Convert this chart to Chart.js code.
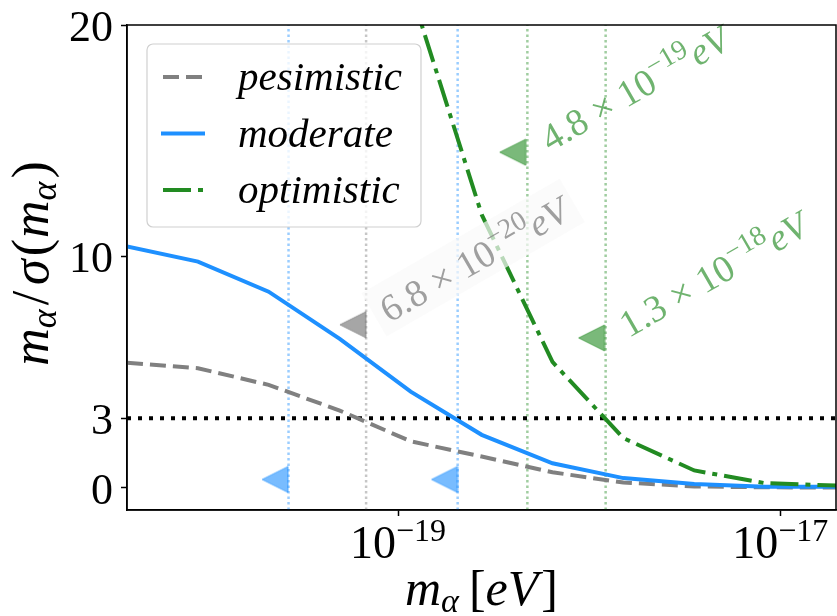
<!DOCTYPE html>
<html>
<head>
<meta charset="utf-8">
<script src="https://cdn.jsdelivr.net/npm/chart.js@4.4.0/dist/chart.umd.min.js"></script>
<style>
  html, body { margin: 0; padding: 0; background: #fff; }
</style>
</head>
<body>
<canvas id="lineChart" width="837" height="616"></canvas>
<script>
// masses (eV) where the curves were sampled
var masses = [3.81e-21, 8.96e-21, 2.10e-20, 4.95e-20, 1.164e-19, 2.74e-19, 6.43e-19, 1.51e-18, 3.55e-18, 8.35e-18, 1.96e-17];
var pesimistic = [5.40, 5.16, 4.44, 3.33, 2.00, 1.34, 0.66, 0.22, 0.05, 0.01, 0.00];
var moderate = [10.42, 9.77, 8.47, 6.43, 4.15, 2.28, 1.05, 0.41, 0.15, 0.04, 0.03];
var optimistic = [null, null, null, null, 21.5, 11.8, 5.43, 2.14, 0.74, 0.19, 0.09];
var seriesNames = ['pesimistic', 'moderate', 'optimistic'];

var threshold = 3;
var yMin = -0.97, yMax = 20;
var yTicks = [0, 3, 10, 20];
var xTicks = [1e-19, 1e-17];

// 3 sigma crossings (vertical dotted lines)
var blueCross = [2.67e-20, 2.05e-19];
var grayCross = [6.8e-20];
var greenCross = [4.75e-19, 1.22e-18];

// triangle markers
var blueMarkX = [2.27e-20, 1.75e-19], blueMarkY = [0.35, 0.35];
var grayMarkX = [5.8e-20], grayMarkY = [7.04];
var greenMarkX = [3.98e-19, 1.03e-18], greenMarkY = [14.5, 6.47];

// rotated labels next to the markers
var noteMass = [6.25e-19, 1.61e-18, 9.0e-20];
var noteLevel = [14.5, 6.46, 7.1];
var noteMant = ['4.8', '1.3', '6.8'];
var noteExp = ['−19', '−18', '−20'];

var BLUE = '#1e90ff', GRAY = '#808080', GREEN = '#228b22';
var SERIF = '"Liberation Serif", "Times New Roman", serif';

function font(size, italic) {
    return (italic ? 'italic ' : '') + size + 'px ' + SERIF;
}

// parts: [text, size, italic, rise, extraGap]
function richWidth(ctx, parts) {
    var w = 0;
    parts.forEach(function(p) {
        ctx.font = font(p[1], p[2]);
        w += ctx.measureText(p[0]).width + (p[4] || 0);
    });
    return w;
}
function drawRich(ctx, parts, x, y) {
    parts.forEach(function(p) {
        ctx.font = font(p[1], p[2]);
        ctx.fillText(p[0], x, y - (p[3] || 0));
        x += ctx.measureText(p[0]).width + (p[4] || 0);
    });
}

function triangle(color) {
    var c = document.createElement('canvas');
    c.width = 28; c.height = 28;
    var g = c.getContext('2d');
    g.fillStyle = color;
    g.strokeStyle = color;
    g.lineWidth = 1;
    g.beginPath();
    g.moveTo(1, 14);
    g.lineTo(27, 1);
    g.lineTo(27, 27);
    g.closePath();
    g.fill();
    g.stroke();
    return c;
}

function pts(xs, ys) {
    return xs.map(function(x, i) { return {x: x, y: ys[i]}; });
}
function vline(v) {
    return [{x: v, y: yMin}, {x: v, y: yMax}];
}

function guide(v, color, order) {
    return {
        data: vline(v), borderColor: color, borderWidth: 2.5, borderDash: [2.5, 3],
        pointRadius: 0, order: order
    };
}
function marks(xs, ys, color) {
    return {
        data: pts(xs, ys), showLine: false, pointStyle: triangle(color),
        pointRadius: 13, order: 4
    };
}

var datasets = [];
blueCross.forEach(function(v) { datasets.push(guide(v, 'rgba(30,144,255,0.45)', 10)); });
grayCross.forEach(function(v) { datasets.push(guide(v, 'rgba(128,128,128,0.45)', 10)); });
greenCross.forEach(function(v) { datasets.push(guide(v, 'rgba(34,139,34,0.43)', 10)); });
datasets.push({
    data: [{x: masses[0], y: threshold}, {x: masses[masses.length - 1], y: threshold}],
    borderColor: '#000', borderWidth: 4, borderDash: [4, 7], pointRadius: 0, order: 5
});
datasets.push(marks(blueMarkX, blueMarkY, 'rgba(30,144,255,0.6)'));
datasets.push(marks(grayMarkX, grayMarkY, 'rgba(128,128,128,0.7)'));
datasets.push(marks(greenMarkX, greenMarkY, 'rgba(34,139,34,0.6)'));

var curves = [
    {label: seriesNames[0], data: pts(masses, pesimistic), borderColor: GRAY, borderWidth: 4, borderDash: [16, 7], pointRadius: 0, order: 3},
    {label: seriesNames[1], data: pts(masses, moderate), borderColor: BLUE, borderWidth: 4, pointRadius: 0, order: 2},
    {label: seriesNames[2], data: pts(masses, optimistic), borderColor: GREEN, borderWidth: 4, borderDash: [28, 7, 5, 7], pointRadius: 0, order: 1}
];
curves.forEach(function(c) { datasets.push(c); });

var textPlugin = {
    id: 'texts',
    afterDatasetsDraw: function(chart) {
        var ctx = chart.ctx, xs = chart.scales.x, ys = chart.scales.y, a = chart.chartArea;
        ctx.save();

        // rotated notes
        for (var i = 0; i < noteMass.length; i++) {
            var px = xs.getPixelForValue(noteMass[i]), py = ys.getPixelForValue(noteLevel[i]);
            var parts = [[noteMant[i], 38, false], [' × ', 38, false], ['10', 38, false], [noteExp[i], 28, false, 15, 1], ['eV', 38, true]];
            ctx.save();
            ctx.translate(px, py);
            ctx.rotate(-30 * Math.PI / 180);
            var w = richWidth(ctx, parts);
            if (i == 2) {
                ctx.fillStyle = 'rgba(249,249,249,0.7)';
                ctx.fillRect(-9, -40, w + 18, 50);
                ctx.fillStyle = 'rgba(128,128,128,0.75)';
            } else {
                ctx.fillStyle = 'rgba(34,139,34,0.65)';
            }
            ctx.textBaseline = 'alphabetic';
            drawRich(ctx, parts, 0, 0);
            ctx.restore();
        }

        // frame
        ctx.strokeStyle = '#000';
        ctx.lineWidth = 1.5;
        ctx.strokeRect(a.left, a.top, a.right - a.left, a.bottom - a.top);

        ctx.fillStyle = '#000';
        ctx.textBaseline = 'alphabetic';
        // y tick labels
        ctx.font = font(44, false);
        ctx.textAlign = 'right';
        yTicks.forEach(function(v) {
            ctx.fillText(String(v), a.left - 14, ys.getPixelForValue(v) + 16);
        });
        ctx.textAlign = 'left';
        // x tick labels
        xTicks.forEach(function(v) {
            var e = Math.round(Math.log10(v));
            var parts = [['10', 46, false], ['−' + Math.abs(e), 32, false, 17]];
            var w = richWidth(ctx, parts);
            drawRich(ctx, parts, xs.getPixelForValue(v) - w / 2, 558);
        });
        // x title
        var xt = [['m', 50, true], ['α', 34, true, -7, 10], ['[', 50, false], ['eV', 50, true, 0, 3], [']', 50, false]];
        var xw = richWidth(ctx, xt);
        drawRich(ctx, xt, (a.left + a.right) / 2 - xw / 2, 605);
        // y title
        var yt = [['m', 52, true], ['α', 36, true, -8, 4], ['/', 52, false, 0, 6], ['σ', 52, true, 0, 3], ['(', 52, false, 0, 1], ['m', 52, true], ['α', 36, true, -8, 3], [')', 52, false]];
        var yw = richWidth(ctx, yt);
        ctx.translate(48, (a.top + a.bottom) / 2);
        ctx.rotate(-Math.PI / 2);
        drawRich(ctx, yt, -yw / 2 + 4, 0);
        ctx.restore();
    }
};

var legendPlugin = {
    id: 'boxLegend',
    afterDraw: function(chart) {
        var ctx = chart.ctx;
        var x0 = 147, y0 = 44, w = 274, h = 183, r = 6;
        ctx.save();
        ctx.beginPath();
        ctx.roundRect(x0, y0, w, h, r);
        ctx.fillStyle = 'rgba(255,255,255,0.8)';
        ctx.fill();
        ctx.strokeStyle = '#d0d0d0';
        ctx.lineWidth = 1.2;
        ctx.stroke();
        curves.forEach(function(c, i) {
            var y = 77 + i * 56.5;
            ctx.beginPath();
            ctx.setLineDash(c.borderDash || []);
            ctx.lineCap = c.borderDash ? 'butt' : 'square';
            ctx.strokeStyle = c.borderColor;
            ctx.lineWidth = c.borderWidth;
            ctx.moveTo(163, y);
            ctx.lineTo(203, y);
            ctx.stroke();
            ctx.setLineDash([]);
            ctx.fillStyle = '#000';
            ctx.font = font(41, true);
            ctx.fillText(c.label, 238, y + 13);
        });
        ctx.restore();
    }
};

var ctx = document.getElementById('lineChart').getContext('2d');
var myChart = new Chart(ctx, {
    type: 'line',
    data: { datasets: datasets },
    options: {
        responsive: false,
        animation: false,
        layout: { autoPadding: false, padding: { left: 121, right: 1, top: 25, bottom: 100 } },
        plugins: { legend: { display: false }, tooltip: { enabled: false } },
        scales: {
            x: {
                type: 'logarithmic', min: masses[0], max: masses[masses.length - 1],
                ticks: { display: false },
                grid: { drawOnChartArea: false, tickLength: 6, tickColor: '#000', tickWidth: 1.5 },
                border: { color: '#000', width: 1.5 },
                afterBuildTicks: function(scale) {
                    scale.ticks = xTicks.map(function(v) { return {value: v, major: true}; });
                }
            },
            y: {
                type: 'linear', min: yMin, max: yMax,
                ticks: { display: false },
                grid: { drawOnChartArea: false, tickLength: 6, tickColor: '#000', tickWidth: 1.5 },
                border: { color: '#000', width: 1.5 },
                afterBuildTicks: function(scale) {
                    scale.ticks = yTicks.map(function(v) { return {value: v}; });
                }
            }
        }
    },
    plugins: [textPlugin, legendPlugin]
});
</script>
</body>
</html>
